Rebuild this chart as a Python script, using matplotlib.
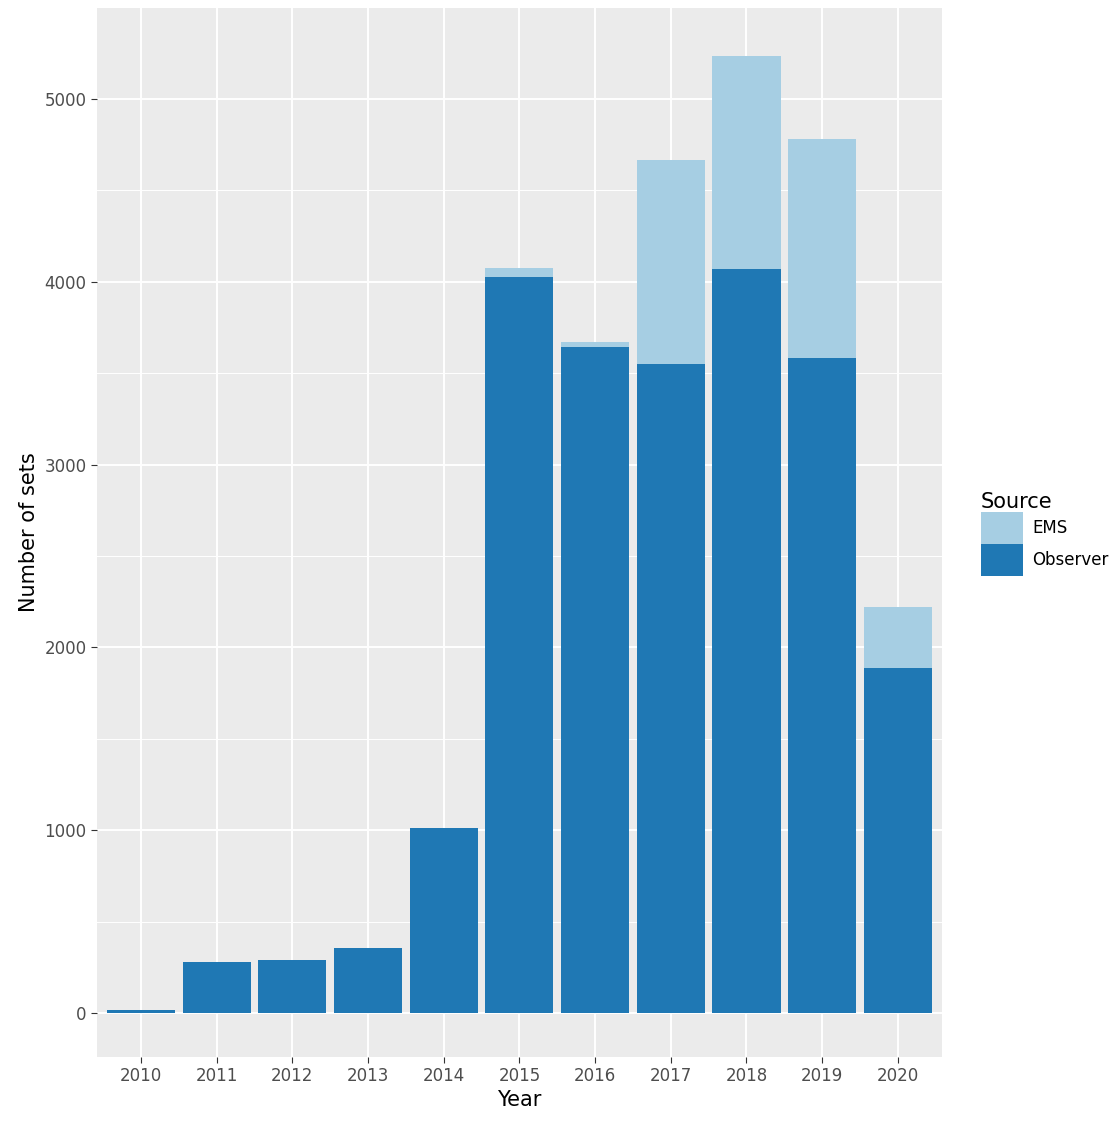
import matplotlib
matplotlib.use("Agg")
import matplotlib.pyplot as plt
from matplotlib.patches import Patch

years = [2010, 2011, 2012, 2013, 2014, 2015, 2016, 2017, 2018, 2019, 2020]
observer = [15, 279, 290, 355, 1012, 4026, 3643, 3550, 4070, 3583, 1887]
ems = [0, 0, 0, 0, 0, 50, 27, 1116, 1165, 1198, 334]

fig = plt.figure(figsize=(11.16, 11.24), dpi=100)
ax = fig.add_axes([0.0869, 0.0596, 0.757, 0.9333])
ax.set_facecolor("#EBEBEB")

ax.bar(years, observer, width=0.9, color="#1F78B4", zorder=3)
ax.bar(years, ems, width=0.9, bottom=observer, color="#A6CEE3", zorder=3)

ax.set_xlim(2010 - 0.58, 2020 + 0.58)
ax.set_ylim(-241, 5498)
ax.set_xticks(years)
ax.set_yticks([0, 1000, 2000, 3000, 4000, 5000])
ax.set_yticks([500, 1500, 2500, 3500, 4500], minor=True)
ax.grid(which="major", color="white", linewidth=1.4, zorder=0)
ax.grid(which="minor", axis="y", color="white", linewidth=0.7, zorder=0)
for s in ax.spines.values():
    s.set_visible(False)
ax.tick_params(which="major", length=4, color="#333333", labelsize=12, labelcolor="#4D4D4D")
ax.tick_params(which="minor", length=0)
ax.set_xlabel("Year", fontsize=15, labelpad=3)
ax.set_ylabel("Number of sets", fontsize=15, labelpad=4)

handles = [Patch(facecolor="#A6CEE3", label="EMS"), Patch(facecolor="#1F78B4", label="Observer")]
fig.legend(handles=handles, title="Source", loc="center left", bbox_to_anchor=(0.873, 0.525),
           frameon=False, fontsize=12, title_fontsize=15, handlelength=2.5, handleheight=2.6,
           handletextpad=0.6, labelspacing=0.0, borderaxespad=0, alignment="left")

fig.savefig("out.png", dpi=100)
